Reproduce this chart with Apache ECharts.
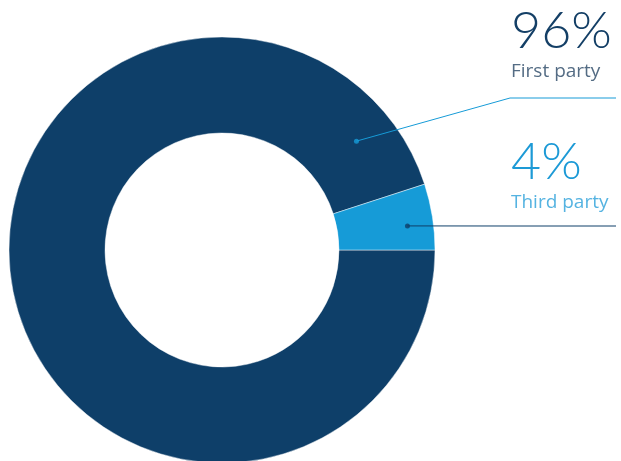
<!DOCTYPE html>
<html>
<head>
<meta charset="utf-8">
<script src="https://cdn.jsdelivr.net/npm/echarts@6/dist/echarts.min.js"></script>
<style>
  html, body { margin: 0; padding: 0; background: #fff; }
  #main { width: 621px; height: 461px; }
</style>
</head>
<body>
<div id="main"></div>
<script>
// data
var names = ["First party", "Third party"];
var shares = [96, 4];
// where the leader dot sits on each slice: [radius, angle in degrees]
var dotPolar = [[173, 39], [187, 7.4]];

// layout
var cx = 222, cy = 250, outerR = 213, innerR = 117;
var navy = "#0e3f69", blue = "#169bd7";
var lineYs = [98, 226];
var labelBottoms = [83, 214];

function toPixel(r, deg) {
  var t = deg * Math.PI / 180;
  return [cx + r * Math.cos(t), cy - r * Math.sin(t)];
}

var richStyles = [
  {
    pct: { fontFamily: "Lato", fontWeight: 300, fontSize: 52, lineHeight: 60, color: "#143f66" },
    nm: { fontFamily: "Open Sans", fontWeight: 400, fontSize: 19, lineHeight: 22, color: "#546c84" }
  },
  {
    pct: { fontFamily: "Lato", fontWeight: 300, fontSize: 52, lineHeight: 60, color: "#1d9ad6" },
    nm: { fontFamily: "Open Sans", fontWeight: 400, fontSize: 19, lineHeight: 22, color: "#55b3e1" }
  }
];
var lineColors = [blue, navy];
var dotColors = [blue, navy];

var sliceData = names.map(function (n, i) {
  return { name: n, value: shares[i], itemStyle: { color: i === 0 ? navy : blue } };
});

var myChart = echarts.init(document.getElementById("main"));
myChart.setOption({
  animation: false,
  polar: { center: [cx, cy], radius: outerR },
  angleAxis: {
    type: "value", min: 0, max: 360, startAngle: 0, clockwise: false,
    axisLine: { show: false }, axisTick: { show: false }, axisLabel: { show: false }, splitLine: { show: false }
  },
  radiusAxis: {
    type: "value", min: 0, max: outerR,
    axisLine: { show: false }, axisTick: { show: false }, axisLabel: { show: false }, splitLine: { show: false }
  },
  series: [
    {
      type: "pie",
      center: [cx, cy],
      radius: [innerR, outerR],
      startAngle: 0,
      minAngle: 18,
      z: 1,
      silent: true,
      itemStyle: { borderColor: "rgba(255,255,255,0.45)", borderWidth: 1 },
      label: { show: false },
      labelLine: { show: false },
      data: sliceData
    },
    {
      // transparent twin that only carries labels and leader lines on top
      type: "pie",
      center: [cx, cy],
      radius: [innerR, outerR],
      startAngle: 0,
      minAngle: 18,
      z: 3,
      silent: true,
      avoidLabelOverlap: false,
      itemStyle: { color: "rgba(0,0,0,0)", borderWidth: 0 },
      label: {
        show: true,
        position: "outside",
        formatter: function (p) {
          return "{pct|" + shares[p.dataIndex] + "%}\n{nm|" + names[p.dataIndex] + "}";
        }
      },
      labelLine: { show: true, lineStyle: { width: 1 } },
      labelLayout: function (p) {
        var i = p.dataIndex;
        var dot = toPixel(dotPolar[i][0], dotPolar[i][1]);
        var y = lineYs[i];
        return {
          x: 511,
          y: labelBottoms[i],
          align: "left",
          verticalAlign: "bottom",
          hideOverlap: false,
          moveOverlap: false,
          labelLinePoints: [dot, [510, y], [616, y]]
        };
      },
      data: names.map(function (n, i) {
        return {
          name: n,
          value: shares[i],
          label: { rich: richStyles[i] },
          labelLine: { lineStyle: { color: lineColors[i] } }
        };
      })
    },
    {
      type: "scatter",
      coordinateSystem: "polar",
      symbolSize: 5,
      z: 5,
      silent: true,
      data: dotPolar.map(function (d, i) {
        return { value: d, itemStyle: { color: dotColors[i] } };
      })
    }
  ]
});
</script>
</body>
</html>
